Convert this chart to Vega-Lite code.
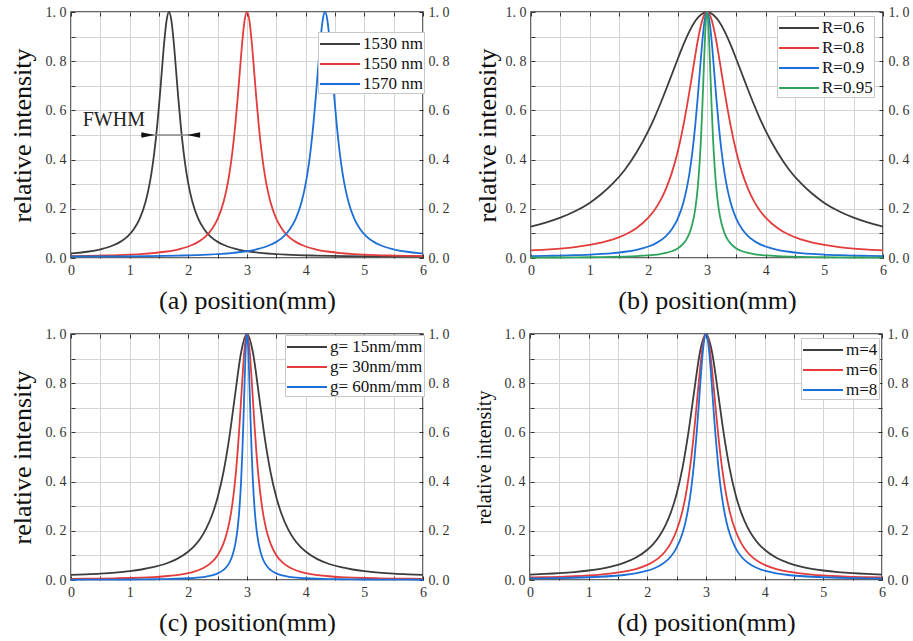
{
"$schema":"https://vega.github.io/schema/vega-lite/v6.json",
"background":"white",
"padding":{"left":8,"top":4,"right":0,"bottom":0},
"config":{
 "view":{"stroke":"#333","strokeWidth":1.5},
 "font":"Liberation Serif",
 "axis":{"domain":false,"grid":true,"gridColor":"#d4d4d4","gridWidth":1,"tickColor":"#333","tickSize":-4,"tickWidth":1,"labelPadding":9,"labelFont":"Liberation Serif","labelFontSize":14,"labelColor":"#333","labelFlush":false,"labelOverlap":false,"titleFont":"Liberation Serif","titleFontWeight":"normal","titleColor":"#111","titleFontSize":26},
 "axisX":{"titlePadding":10},
 "axisY":{"titlePadding":5},
 "legend":{"symbolType":"M-1,0L3,0","symbolSize":400,"symbolStrokeWidth":2,"labelFont":"Liberation Serif","labelFontSize":17,"labelOffset":22,"padding":1,"rowPadding":1,"fillColor":"white","strokeColor":"#c8c8c8","labelColor":"#111","labelLimit":250},
 "line":{"strokeWidth":1.8,"interpolate":"monotone"}
},
"datasets":{
"a":[
{"c":"1530 nm","x":1.67,"y":1},
{"c":"1530 nm","x":1.63,"y":0.967},{"c":"1530 nm","x":1.71,"y":0.967},
{"c":"1530 nm","x":1.59,"y":0.88},{"c":"1530 nm","x":1.75,"y":0.88},
{"c":"1530 nm","x":1.54,"y":0.735},{"c":"1530 nm","x":1.8,"y":0.735},
{"c":"1530 nm","x":1.51,"y":0.647},{"c":"1530 nm","x":1.83,"y":0.647},
{"c":"1530 nm","x":1.47,"y":0.54},{"c":"1530 nm","x":1.87,"y":0.54},
{"c":"1530 nm","x":1.42,"y":0.429},{"c":"1530 nm","x":1.92,"y":0.429},
{"c":"1530 nm","x":1.37,"y":0.343},{"c":"1530 nm","x":1.97,"y":0.343},
{"c":"1530 nm","x":1.32,"y":0.278},{"c":"1530 nm","x":2.02,"y":0.278},
{"c":"1530 nm","x":1.27,"y":0.228},{"c":"1530 nm","x":2.07,"y":0.228},
{"c":"1530 nm","x":1.17,"y":0.159},{"c":"1530 nm","x":2.17,"y":0.159},
{"c":"1530 nm","x":1.07,"y":0.117},{"c":"1530 nm","x":2.27,"y":0.117},
{"c":"1530 nm","x":0.97,"y":0.089},{"c":"1530 nm","x":2.37,"y":0.089},
{"c":"1530 nm","x":0.87,"y":0.07},{"c":"1530 nm","x":2.47,"y":0.07},
{"c":"1530 nm","x":0.67,"y":0.0467},{"c":"1530 nm","x":2.67,"y":0.0467},
{"c":"1530 nm","x":0.47,"y":0.0335},{"c":"1530 nm","x":2.87,"y":0.0335},
{"c":"1530 nm","x":0.27,"y":0.0254},{"c":"1530 nm","x":3.07,"y":0.0254},
{"c":"1530 nm","x":0.07,"y":0.0201},{"c":"1530 nm","x":3.27,"y":0.0201},
{"c":"1530 nm","x":0,"y":0.0187},{"c":"1530 nm","x":3.67,"y":0.0138},
{"c":"1530 nm","x":4.17,"y":0.0099},{"c":"1530 nm","x":4.67,"y":0.0078},
{"c":"1530 nm","x":5.17,"y":0.0068},{"c":"1530 nm","x":5.67,"y":0.0063},{"c":"1530 nm","x":6,"y":0.0062},
{"c":"1550 nm","x":3,"y":1},
{"c":"1550 nm","x":2.96,"y":0.967},{"c":"1550 nm","x":3.04,"y":0.967},
{"c":"1550 nm","x":2.92,"y":0.88},{"c":"1550 nm","x":3.08,"y":0.88},
{"c":"1550 nm","x":2.87,"y":0.735},{"c":"1550 nm","x":3.13,"y":0.735},
{"c":"1550 nm","x":2.84,"y":0.647},{"c":"1550 nm","x":3.16,"y":0.647},
{"c":"1550 nm","x":2.8,"y":0.54},{"c":"1550 nm","x":3.2,"y":0.54},
{"c":"1550 nm","x":2.75,"y":0.429},{"c":"1550 nm","x":3.25,"y":0.429},
{"c":"1550 nm","x":2.7,"y":0.343},{"c":"1550 nm","x":3.3,"y":0.343},
{"c":"1550 nm","x":2.65,"y":0.278},{"c":"1550 nm","x":3.35,"y":0.278},
{"c":"1550 nm","x":2.6,"y":0.228},{"c":"1550 nm","x":3.4,"y":0.228},
{"c":"1550 nm","x":2.5,"y":0.159},{"c":"1550 nm","x":3.5,"y":0.159},
{"c":"1550 nm","x":2.4,"y":0.117},{"c":"1550 nm","x":3.6,"y":0.117},
{"c":"1550 nm","x":2.3,"y":0.089},{"c":"1550 nm","x":3.7,"y":0.089},
{"c":"1550 nm","x":2.2,"y":0.07},{"c":"1550 nm","x":3.8,"y":0.07},
{"c":"1550 nm","x":2,"y":0.0467},{"c":"1550 nm","x":4,"y":0.0467},
{"c":"1550 nm","x":1.8,"y":0.0335},{"c":"1550 nm","x":4.2,"y":0.0335},
{"c":"1550 nm","x":1.6,"y":0.0254},{"c":"1550 nm","x":4.4,"y":0.0254},
{"c":"1550 nm","x":1.4,"y":0.0201},{"c":"1550 nm","x":4.6,"y":0.0201},
{"c":"1550 nm","x":1,"y":0.0138},{"c":"1550 nm","x":5,"y":0.0138},
{"c":"1550 nm","x":0.5,"y":0.0099},{"c":"1550 nm","x":5.5,"y":0.0099},
{"c":"1550 nm","x":0,"y":0.0078},{"c":"1550 nm","x":6,"y":0.0078},
{"c":"1570 nm","x":4.33,"y":1},
{"c":"1570 nm","x":4.29,"y":0.967},{"c":"1570 nm","x":4.37,"y":0.967},
{"c":"1570 nm","x":4.25,"y":0.88},{"c":"1570 nm","x":4.41,"y":0.88},
{"c":"1570 nm","x":4.2,"y":0.735},{"c":"1570 nm","x":4.46,"y":0.735},
{"c":"1570 nm","x":4.17,"y":0.647},{"c":"1570 nm","x":4.49,"y":0.647},
{"c":"1570 nm","x":4.13,"y":0.54},{"c":"1570 nm","x":4.53,"y":0.54},
{"c":"1570 nm","x":4.08,"y":0.429},{"c":"1570 nm","x":4.58,"y":0.429},
{"c":"1570 nm","x":4.03,"y":0.343},{"c":"1570 nm","x":4.63,"y":0.343},
{"c":"1570 nm","x":3.98,"y":0.278},{"c":"1570 nm","x":4.68,"y":0.278},
{"c":"1570 nm","x":3.93,"y":0.228},{"c":"1570 nm","x":4.73,"y":0.228},
{"c":"1570 nm","x":3.83,"y":0.159},{"c":"1570 nm","x":4.83,"y":0.159},
{"c":"1570 nm","x":3.73,"y":0.117},{"c":"1570 nm","x":4.93,"y":0.117},
{"c":"1570 nm","x":3.63,"y":0.089},{"c":"1570 nm","x":5.03,"y":0.089},
{"c":"1570 nm","x":3.53,"y":0.07},{"c":"1570 nm","x":5.13,"y":0.07},
{"c":"1570 nm","x":3.33,"y":0.0467},{"c":"1570 nm","x":5.33,"y":0.0467},
{"c":"1570 nm","x":3.13,"y":0.0335},{"c":"1570 nm","x":5.53,"y":0.0335},
{"c":"1570 nm","x":2.93,"y":0.0254},{"c":"1570 nm","x":5.73,"y":0.0254},
{"c":"1570 nm","x":2.73,"y":0.0201},{"c":"1570 nm","x":5.93,"y":0.0201},
{"c":"1570 nm","x":2.33,"y":0.0138},{"c":"1570 nm","x":6,"y":0.0187},
{"c":"1570 nm","x":1.83,"y":0.0099},{"c":"1570 nm","x":1.33,"y":0.0078},
{"c":"1570 nm","x":0.83,"y":0.0068},{"c":"1570 nm","x":0.33,"y":0.0063},{"c":"1570 nm","x":0,"y":0.0062}
],
"b":[
{"c":"R=0.6","x":3,"y":1},
{"c":"R=0.6","x":2.9,"y":0.99},{"c":"R=0.6","x":3.1,"y":0.99},
{"c":"R=0.6","x":2.8,"y":0.963},{"c":"R=0.6","x":3.2,"y":0.963},
{"c":"R=0.6","x":2.7,"y":0.921},{"c":"R=0.6","x":3.3,"y":0.921},
{"c":"R=0.6","x":2.6,"y":0.868},{"c":"R=0.6","x":3.4,"y":0.868},
{"c":"R=0.6","x":2.5,"y":0.808},{"c":"R=0.6","x":3.5,"y":0.808},
{"c":"R=0.6","x":2.4,"y":0.746},{"c":"R=0.6","x":3.6,"y":0.746},
{"c":"R=0.6","x":2.3,"y":0.684},{"c":"R=0.6","x":3.7,"y":0.684},
{"c":"R=0.6","x":2.2,"y":0.624},{"c":"R=0.6","x":3.8,"y":0.624},
{"c":"R=0.6","x":2.1,"y":0.568},{"c":"R=0.6","x":3.9,"y":0.568},
{"c":"R=0.6","x":2,"y":0.517},{"c":"R=0.6","x":4,"y":0.517},
{"c":"R=0.6","x":1.8,"y":0.43},{"c":"R=0.6","x":4.2,"y":0.43},
{"c":"R=0.6","x":1.6,"y":0.359},{"c":"R=0.6","x":4.4,"y":0.359},
{"c":"R=0.6","x":1.4,"y":0.304},{"c":"R=0.6","x":4.6,"y":0.304},
{"c":"R=0.6","x":1.2,"y":0.26},{"c":"R=0.6","x":4.8,"y":0.26},
{"c":"R=0.6","x":1,"y":0.224},{"c":"R=0.6","x":5,"y":0.224},
{"c":"R=0.6","x":0.75,"y":0.19},{"c":"R=0.6","x":5.25,"y":0.19},
{"c":"R=0.6","x":0.5,"y":0.164},{"c":"R=0.6","x":5.5,"y":0.164},
{"c":"R=0.6","x":0.25,"y":0.144},{"c":"R=0.6","x":5.75,"y":0.144},
{"c":"R=0.6","x":0,"y":0.128},{"c":"R=0.6","x":6,"y":0.128},
{"c":"R=0.8","x":3,"y":1},
{"c":"R=0.8","x":2.96,"y":0.992},{"c":"R=0.8","x":3.04,"y":0.992},
{"c":"R=0.8","x":2.92,"y":0.967},{"c":"R=0.8","x":3.08,"y":0.967},
{"c":"R=0.8","x":2.9,"y":0.949},{"c":"R=0.8","x":3.1,"y":0.949},
{"c":"R=0.8","x":2.87,"y":0.917},{"c":"R=0.8","x":3.13,"y":0.917},
{"c":"R=0.8","x":2.84,"y":0.88},{"c":"R=0.8","x":3.16,"y":0.88},
{"c":"R=0.8","x":2.8,"y":0.824},{"c":"R=0.8","x":3.2,"y":0.824},
{"c":"R=0.8","x":2.75,"y":0.75},{"c":"R=0.8","x":3.25,"y":0.75},
{"c":"R=0.8","x":2.7,"y":0.676},{"c":"R=0.8","x":3.3,"y":0.676},
{"c":"R=0.8","x":2.65,"y":0.606},{"c":"R=0.8","x":3.35,"y":0.606},
{"c":"R=0.8","x":2.6,"y":0.541},{"c":"R=0.8","x":3.4,"y":0.541},
{"c":"R=0.8","x":2.5,"y":0.431},{"c":"R=0.8","x":3.5,"y":0.431},
{"c":"R=0.8","x":2.4,"y":0.346},{"c":"R=0.8","x":3.6,"y":0.346},
{"c":"R=0.8","x":2.3,"y":0.281},{"c":"R=0.8","x":3.7,"y":0.281},
{"c":"R=0.8","x":2.2,"y":0.231},{"c":"R=0.8","x":3.8,"y":0.231},
{"c":"R=0.8","x":2.1,"y":0.193},{"c":"R=0.8","x":3.9,"y":0.193},
{"c":"R=0.8","x":2,"y":0.164},{"c":"R=0.8","x":4,"y":0.164},
{"c":"R=0.8","x":1.8,"y":0.122},{"c":"R=0.8","x":4.2,"y":0.122},
{"c":"R=0.8","x":1.6,"y":0.0945},{"c":"R=0.8","x":4.4,"y":0.0945},
{"c":"R=0.8","x":1.4,"y":0.0759},{"c":"R=0.8","x":4.6,"y":0.0759},
{"c":"R=0.8","x":1.2,"y":0.0627},{"c":"R=0.8","x":4.8,"y":0.0627},
{"c":"R=0.8","x":1,"y":0.0532},{"c":"R=0.8","x":5,"y":0.0532},
{"c":"R=0.8","x":0.75,"y":0.0445},{"c":"R=0.8","x":5.25,"y":0.0445},
{"c":"R=0.8","x":0.5,"y":0.0384},{"c":"R=0.8","x":5.5,"y":0.0384},
{"c":"R=0.8","x":0.25,"y":0.0339},{"c":"R=0.8","x":5.75,"y":0.0339},
{"c":"R=0.8","x":0,"y":0.0306},{"c":"R=0.8","x":6,"y":0.0306},
{"c":"R=0.9","x":3,"y":1},
{"c":"R=0.9","x":2.96,"y":0.967},{"c":"R=0.9","x":3.04,"y":0.967},
{"c":"R=0.9","x":2.92,"y":0.88},{"c":"R=0.9","x":3.08,"y":0.88},
{"c":"R=0.9","x":2.9,"y":0.824},{"c":"R=0.9","x":3.1,"y":0.824},
{"c":"R=0.9","x":2.87,"y":0.735},{"c":"R=0.9","x":3.13,"y":0.735},
{"c":"R=0.9","x":2.84,"y":0.647},{"c":"R=0.9","x":3.16,"y":0.647},
{"c":"R=0.9","x":2.8,"y":0.54},{"c":"R=0.9","x":3.2,"y":0.54},
{"c":"R=0.9","x":2.75,"y":0.429},{"c":"R=0.9","x":3.25,"y":0.429},
{"c":"R=0.9","x":2.7,"y":0.343},{"c":"R=0.9","x":3.3,"y":0.343},
{"c":"R=0.9","x":2.65,"y":0.278},{"c":"R=0.9","x":3.35,"y":0.278},
{"c":"R=0.9","x":2.6,"y":0.228},{"c":"R=0.9","x":3.4,"y":0.228},
{"c":"R=0.9","x":2.5,"y":0.159},{"c":"R=0.9","x":3.5,"y":0.159},
{"c":"R=0.9","x":2.4,"y":0.117},{"c":"R=0.9","x":3.6,"y":0.117},
{"c":"R=0.9","x":2.3,"y":0.089},{"c":"R=0.9","x":3.7,"y":0.089},
{"c":"R=0.9","x":2.2,"y":0.07},{"c":"R=0.9","x":3.8,"y":0.07},
{"c":"R=0.9","x":2.1,"y":0.0566},{"c":"R=0.9","x":3.9,"y":0.0566},
{"c":"R=0.9","x":2,"y":0.0467},{"c":"R=0.9","x":4,"y":0.0467},
{"c":"R=0.9","x":1.8,"y":0.0335},{"c":"R=0.9","x":4.2,"y":0.0335},
{"c":"R=0.9","x":1.6,"y":0.0254},{"c":"R=0.9","x":4.4,"y":0.0254},
{"c":"R=0.9","x":1.4,"y":0.0201},{"c":"R=0.9","x":4.6,"y":0.0201},
{"c":"R=0.9","x":1.2,"y":0.0165},{"c":"R=0.9","x":4.8,"y":0.0165},
{"c":"R=0.9","x":1,"y":0.0138},{"c":"R=0.9","x":5,"y":0.0138},
{"c":"R=0.9","x":0.75,"y":0.0115},{"c":"R=0.9","x":5.25,"y":0.0115},
{"c":"R=0.9","x":0.5,"y":0.0099},{"c":"R=0.9","x":5.5,"y":0.0099},
{"c":"R=0.9","x":0.25,"y":0.0087},{"c":"R=0.9","x":5.75,"y":0.0087},
{"c":"R=0.9","x":0,"y":0.0078},{"c":"R=0.9","x":6,"y":0.0078},
{"c":"R=0.95","x":3,"y":1},
{"c":"R=0.95","x":2.98,"y":0.961},{"c":"R=0.95","x":3.02,"y":0.961},
{"c":"R=0.95","x":2.96,"y":0.862},{"c":"R=0.95","x":3.04,"y":0.862},
{"c":"R=0.95","x":2.94,"y":0.735},{"c":"R=0.95","x":3.06,"y":0.735},
{"c":"R=0.95","x":2.92,"y":0.61},{"c":"R=0.95","x":3.08,"y":0.61},
{"c":"R=0.95","x":2.9,"y":0.5},{"c":"R=0.95","x":3.1,"y":0.5},
{"c":"R=0.95","x":2.87,"y":0.372},{"c":"R=0.95","x":3.13,"y":0.372},
{"c":"R=0.95","x":2.84,"y":0.281},{"c":"R=0.95","x":3.16,"y":0.281},
{"c":"R=0.95","x":2.8,"y":0.2},{"c":"R=0.95","x":3.2,"y":0.2},
{"c":"R=0.95","x":2.75,"y":0.138},{"c":"R=0.95","x":3.25,"y":0.138},
{"c":"R=0.95","x":2.7,"y":0.1},{"c":"R=0.95","x":3.3,"y":0.1},
{"c":"R=0.95","x":2.65,"y":0.0758},{"c":"R=0.95","x":3.35,"y":0.0758},
{"c":"R=0.95","x":2.6,"y":0.0592},{"c":"R=0.95","x":3.4,"y":0.0592},
{"c":"R=0.95","x":2.5,"y":0.0388},{"c":"R=0.95","x":3.5,"y":0.0388},
{"c":"R=0.95","x":2.4,"y":0.0274},{"c":"R=0.95","x":3.6,"y":0.0274},
{"c":"R=0.95","x":2.3,"y":0.0204},{"c":"R=0.95","x":3.7,"y":0.0204},
{"c":"R=0.95","x":2.2,"y":0.0158},{"c":"R=0.95","x":3.8,"y":0.0158},
{"c":"R=0.95","x":2.1,"y":0.0126},{"c":"R=0.95","x":3.9,"y":0.0126},
{"c":"R=0.95","x":2,"y":0.0103},{"c":"R=0.95","x":4,"y":0.0103},
{"c":"R=0.95","x":1.8,"y":0.0073},{"c":"R=0.95","x":4.2,"y":0.0073},
{"c":"R=0.95","x":1.6,"y":0.0055},{"c":"R=0.95","x":4.4,"y":0.0055},
{"c":"R=0.95","x":1.4,"y":0.0044},{"c":"R=0.95","x":4.6,"y":0.0044},
{"c":"R=0.95","x":1.2,"y":0.0036},{"c":"R=0.95","x":4.8,"y":0.0036},
{"c":"R=0.95","x":1,"y":0.003},{"c":"R=0.95","x":5,"y":0.003},
{"c":"R=0.95","x":0.75,"y":0.0025},{"c":"R=0.95","x":5.25,"y":0.0025},
{"c":"R=0.95","x":0.5,"y":0.0021},{"c":"R=0.95","x":5.5,"y":0.0021},
{"c":"R=0.95","x":0.25,"y":0.0019},{"c":"R=0.95","x":5.75,"y":0.0019},
{"c":"R=0.95","x":0,"y":0.0017},{"c":"R=0.95","x":6,"y":0.0017}
],
"c":[
{"c":"g= 15nm/mm","x":3,"y":1},
{"c":"g= 15nm/mm","x":2.9,"y":0.926},{"c":"g= 15nm/mm","x":3.1,"y":0.926},
{"c":"g= 15nm/mm","x":2.8,"y":0.758},{"c":"g= 15nm/mm","x":3.2,"y":0.758},
{"c":"g= 15nm/mm","x":2.7,"y":0.582},{"c":"g= 15nm/mm","x":3.3,"y":0.582},
{"c":"g= 15nm/mm","x":2.6,"y":0.44},{"c":"g= 15nm/mm","x":3.4,"y":0.44},
{"c":"g= 15nm/mm","x":2.5,"y":0.336},{"c":"g= 15nm/mm","x":3.5,"y":0.336},
{"c":"g= 15nm/mm","x":2.4,"y":0.261},{"c":"g= 15nm/mm","x":3.6,"y":0.261},
{"c":"g= 15nm/mm","x":2.3,"y":0.207},{"c":"g= 15nm/mm","x":3.7,"y":0.207},
{"c":"g= 15nm/mm","x":2.2,"y":0.167},{"c":"g= 15nm/mm","x":3.8,"y":0.167},
{"c":"g= 15nm/mm","x":2.1,"y":0.138},{"c":"g= 15nm/mm","x":3.9,"y":0.138},
{"c":"g= 15nm/mm","x":2,"y":0.116},{"c":"g= 15nm/mm","x":4,"y":0.116},
{"c":"g= 15nm/mm","x":1.8,"y":0.0847},{"c":"g= 15nm/mm","x":4.2,"y":0.0847},
{"c":"g= 15nm/mm","x":1.6,"y":0.0651},{"c":"g= 15nm/mm","x":4.4,"y":0.0651},
{"c":"g= 15nm/mm","x":1.4,"y":0.0519},{"c":"g= 15nm/mm","x":4.6,"y":0.0519},
{"c":"g= 15nm/mm","x":1.2,"y":0.0427},{"c":"g= 15nm/mm","x":4.8,"y":0.0427},
{"c":"g= 15nm/mm","x":1,"y":0.0361},{"c":"g= 15nm/mm","x":5,"y":0.0361},
{"c":"g= 15nm/mm","x":0.75,"y":0.0301},{"c":"g= 15nm/mm","x":5.25,"y":0.0301},
{"c":"g= 15nm/mm","x":0.5,"y":0.0259},{"c":"g= 15nm/mm","x":5.5,"y":0.0259},
{"c":"g= 15nm/mm","x":0.25,"y":0.0229},{"c":"g= 15nm/mm","x":5.75,"y":0.0229},
{"c":"g= 15nm/mm","x":0,"y":0.0206},{"c":"g= 15nm/mm","x":6,"y":0.0206},
{"c":"g= 30nm/mm","x":3,"y":1},
{"c":"g= 30nm/mm","x":2.96,"y":0.945},{"c":"g= 30nm/mm","x":3.04,"y":0.945},
{"c":"g= 30nm/mm","x":2.92,"y":0.813},{"c":"g= 30nm/mm","x":3.08,"y":0.813},
{"c":"g= 30nm/mm","x":2.9,"y":0.735},{"c":"g= 30nm/mm","x":3.1,"y":0.735},
{"c":"g= 30nm/mm","x":2.87,"y":0.622},{"c":"g= 30nm/mm","x":3.13,"y":0.622},
{"c":"g= 30nm/mm","x":2.84,"y":0.52},{"c":"g= 30nm/mm","x":3.16,"y":0.52},
{"c":"g= 30nm/mm","x":2.8,"y":0.41},{"c":"g= 30nm/mm","x":3.2,"y":0.41},
{"c":"g= 30nm/mm","x":2.75,"y":0.308},{"c":"g= 30nm/mm","x":3.25,"y":0.308},
{"c":"g= 30nm/mm","x":2.7,"y":0.236},{"c":"g= 30nm/mm","x":3.3,"y":0.236},
{"c":"g= 30nm/mm","x":2.65,"y":0.186},{"c":"g= 30nm/mm","x":3.35,"y":0.186},
{"c":"g= 30nm/mm","x":2.6,"y":0.149},{"c":"g= 30nm/mm","x":3.4,"y":0.149},
{"c":"g= 30nm/mm","x":2.5,"y":0.101},{"c":"g= 30nm/mm","x":3.5,"y":0.101},
{"c":"g= 30nm/mm","x":2.4,"y":0.0727},{"c":"g= 30nm/mm","x":3.6,"y":0.0727},
{"c":"g= 30nm/mm","x":2.3,"y":0.0547},{"c":"g= 30nm/mm","x":3.7,"y":0.0547},
{"c":"g= 30nm/mm","x":2.2,"y":0.0427},{"c":"g= 30nm/mm","x":3.8,"y":0.0427},
{"c":"g= 30nm/mm","x":2.1,"y":0.0343},{"c":"g= 30nm/mm","x":3.9,"y":0.0343},
{"c":"g= 30nm/mm","x":2,"y":0.0282},{"c":"g= 30nm/mm","x":4,"y":0.0282},
{"c":"g= 30nm/mm","x":1.8,"y":0.0201},{"c":"g= 30nm/mm","x":4.2,"y":0.0201},
{"c":"g= 30nm/mm","x":1.6,"y":0.0152},{"c":"g= 30nm/mm","x":4.4,"y":0.0152},
{"c":"g= 30nm/mm","x":1.4,"y":0.012},{"c":"g= 30nm/mm","x":4.6,"y":0.012},
{"c":"g= 30nm/mm","x":1.2,"y":0.0098},{"c":"g= 30nm/mm","x":4.8,"y":0.0098},
{"c":"g= 30nm/mm","x":1,"y":0.0082},{"c":"g= 30nm/mm","x":5,"y":0.0082},
{"c":"g= 30nm/mm","x":0.75,"y":0.0069},{"c":"g= 30nm/mm","x":5.25,"y":0.0069},
{"c":"g= 30nm/mm","x":0.5,"y":0.0059},{"c":"g= 30nm/mm","x":5.5,"y":0.0059},
{"c":"g= 30nm/mm","x":0.25,"y":0.0052},{"c":"g= 30nm/mm","x":5.75,"y":0.0052},
{"c":"g= 30nm/mm","x":0,"y":0.0047},{"c":"g= 30nm/mm","x":6,"y":0.0047},
{"c":"g= 60nm/mm","x":3,"y":1},
{"c":"g= 60nm/mm","x":2.98,"y":0.945},{"c":"g= 60nm/mm","x":3.02,"y":0.945},
{"c":"g= 60nm/mm","x":2.96,"y":0.81},{"c":"g= 60nm/mm","x":3.04,"y":0.81},
{"c":"g= 60nm/mm","x":2.94,"y":0.654},{"c":"g= 60nm/mm","x":3.06,"y":0.654},
{"c":"g= 60nm/mm","x":2.92,"y":0.516},{"c":"g= 60nm/mm","x":3.08,"y":0.516},
{"c":"g= 60nm/mm","x":2.9,"y":0.405},{"c":"g= 60nm/mm","x":3.1,"y":0.405},
{"c":"g= 60nm/mm","x":2.87,"y":0.287},{"c":"g= 60nm/mm","x":3.13,"y":0.287},
{"c":"g= 60nm/mm","x":2.84,"y":0.21},{"c":"g= 60nm/mm","x":3.16,"y":0.21},
{"c":"g= 60nm/mm","x":2.8,"y":0.146},{"c":"g= 60nm/mm","x":3.2,"y":0.146},
{"c":"g= 60nm/mm","x":2.75,"y":0.0985},{"c":"g= 60nm/mm","x":3.25,"y":0.0985},
{"c":"g= 60nm/mm","x":2.7,"y":0.0706},{"c":"g= 60nm/mm","x":3.3,"y":0.0706},
{"c":"g= 60nm/mm","x":2.65,"y":0.053},{"c":"g= 60nm/mm","x":3.35,"y":0.053},
{"c":"g= 60nm/mm","x":2.6,"y":0.0411},{"c":"g= 60nm/mm","x":3.4,"y":0.0411},
{"c":"g= 60nm/mm","x":2.5,"y":0.0268},{"c":"g= 60nm/mm","x":3.5,"y":0.0268},
{"c":"g= 60nm/mm","x":2.4,"y":0.0189},{"c":"g= 60nm/mm","x":3.6,"y":0.0189},
{"c":"g= 60nm/mm","x":2.3,"y":0.014},{"c":"g= 60nm/mm","x":3.7,"y":0.014},
{"c":"g= 60nm/mm","x":2.2,"y":0.0108},{"c":"g= 60nm/mm","x":3.8,"y":0.0108},
{"c":"g= 60nm/mm","x":2.1,"y":0.0086},{"c":"g= 60nm/mm","x":3.9,"y":0.0086},
{"c":"g= 60nm/mm","x":2,"y":0.0071},{"c":"g= 60nm/mm","x":4,"y":0.0071},
{"c":"g= 60nm/mm","x":1.8,"y":0.005},{"c":"g= 60nm/mm","x":4.2,"y":0.005},
{"c":"g= 60nm/mm","x":1.6,"y":0.0038},{"c":"g= 60nm/mm","x":4.4,"y":0.0038},
{"c":"g= 60nm/mm","x":1.4,"y":0.003},{"c":"g= 60nm/mm","x":4.6,"y":0.003},
{"c":"g= 60nm/mm","x":1.2,"y":0.0024},{"c":"g= 60nm/mm","x":4.8,"y":0.0024},
{"c":"g= 60nm/mm","x":1,"y":0.002},{"c":"g= 60nm/mm","x":5,"y":0.002},
{"c":"g= 60nm/mm","x":0.75,"y":0.0017},{"c":"g= 60nm/mm","x":5.25,"y":0.0017},
{"c":"g= 60nm/mm","x":0.5,"y":0.0015},{"c":"g= 60nm/mm","x":5.5,"y":0.0015},
{"c":"g= 60nm/mm","x":0.25,"y":0.0013},{"c":"g= 60nm/mm","x":5.75,"y":0.0013},
{"c":"g= 60nm/mm","x":0,"y":0.0011},{"c":"g= 60nm/mm","x":6,"y":0.0011}
],
"d":[
{"c":"m=4","x":3,"y":1},
{"c":"m=4","x":2.9,"y":0.93},{"c":"m=4","x":3.1,"y":0.93},
{"c":"m=4","x":2.8,"y":0.77},{"c":"m=4","x":3.2,"y":0.77},
{"c":"m=4","x":2.7,"y":0.599},{"c":"m=4","x":3.3,"y":0.599},
{"c":"m=4","x":2.6,"y":0.457},{"c":"m=4","x":3.4,"y":0.457},
{"c":"m=4","x":2.5,"y":0.351},{"c":"m=4","x":3.5,"y":0.351},
{"c":"m=4","x":2.4,"y":0.274},{"c":"m=4","x":3.6,"y":0.274},
{"c":"m=4","x":2.3,"y":0.218},{"c":"m=4","x":3.7,"y":0.218},
{"c":"m=4","x":2.2,"y":0.177},{"c":"m=4","x":3.8,"y":0.177},
{"c":"m=4","x":2.1,"y":0.146},{"c":"m=4","x":3.9,"y":0.146},
{"c":"m=4","x":2,"y":0.123},{"c":"m=4","x":4,"y":0.123},
{"c":"m=4","x":1.8,"y":0.0902},{"c":"m=4","x":4.2,"y":0.0902},
{"c":"m=4","x":1.6,"y":0.0694},{"c":"m=4","x":4.4,"y":0.0694},
{"c":"m=4","x":1.4,"y":0.0554},{"c":"m=4","x":4.6,"y":0.0554},
{"c":"m=4","x":1.2,"y":0.0456},{"c":"m=4","x":4.8,"y":0.0456},
{"c":"m=4","x":1,"y":0.0386},{"c":"m=4","x":5,"y":0.0386},
{"c":"m=4","x":0.75,"y":0.0322},{"c":"m=4","x":5.25,"y":0.0322},
{"c":"m=4","x":0.5,"y":0.0277},{"c":"m=4","x":5.5,"y":0.0277},
{"c":"m=4","x":0.25,"y":0.0245},{"c":"m=4","x":5.75,"y":0.0245},
{"c":"m=4","x":0,"y":0.0221},{"c":"m=4","x":6,"y":0.0221},
{"c":"m=6","x":3,"y":1},
{"c":"m=6","x":2.96,"y":0.975},{"c":"m=6","x":3.04,"y":0.975},
{"c":"m=6","x":2.92,"y":0.907},{"c":"m=6","x":3.08,"y":0.907},
{"c":"m=6","x":2.9,"y":0.862},{"c":"m=6","x":3.1,"y":0.862},
{"c":"m=6","x":2.87,"y":0.787},{"c":"m=6","x":3.13,"y":0.787},
{"c":"m=6","x":2.84,"y":0.71},{"c":"m=6","x":3.16,"y":0.71},
{"c":"m=6","x":2.8,"y":0.61},{"c":"m=6","x":3.2,"y":0.61},
{"c":"m=6","x":2.75,"y":0.5},{"c":"m=6","x":3.25,"y":0.5},
{"c":"m=6","x":2.7,"y":0.411},{"c":"m=6","x":3.3,"y":0.411},
{"c":"m=6","x":2.65,"y":0.339},{"c":"m=6","x":3.35,"y":0.339},
{"c":"m=6","x":2.6,"y":0.282},{"c":"m=6","x":3.4,"y":0.282},
{"c":"m=6","x":2.5,"y":0.202},{"c":"m=6","x":3.5,"y":0.202},
{"c":"m=6","x":2.4,"y":0.15},{"c":"m=6","x":3.6,"y":0.15},
{"c":"m=6","x":2.3,"y":0.115},{"c":"m=6","x":3.7,"y":0.115},
{"c":"m=6","x":2.2,"y":0.0912},{"c":"m=6","x":3.8,"y":0.0912},
{"c":"m=6","x":2.1,"y":0.074},{"c":"m=6","x":3.9,"y":0.074},
{"c":"m=6","x":2,"y":0.0613},{"c":"m=6","x":4,"y":0.0613},
{"c":"m=6","x":1.8,"y":0.0442},{"c":"m=6","x":4.2,"y":0.0442},
{"c":"m=6","x":1.6,"y":0.0336},{"c":"m=6","x":4.4,"y":0.0336},
{"c":"m=6","x":1.4,"y":0.0266},{"c":"m=6","x":4.6,"y":0.0266},
{"c":"m=6","x":1.2,"y":0.0218},{"c":"m=6","x":4.8,"y":0.0218},
{"c":"m=6","x":1,"y":0.0184},{"c":"m=6","x":5,"y":0.0184},
{"c":"m=6","x":0.75,"y":0.0153},{"c":"m=6","x":5.25,"y":0.0153},
{"c":"m=6","x":0.5,"y":0.0131},{"c":"m=6","x":5.5,"y":0.0131},
{"c":"m=6","x":0.25,"y":0.0116},{"c":"m=6","x":5.75,"y":0.0116},
{"c":"m=6","x":0,"y":0.0104},{"c":"m=6","x":6,"y":0.0104},
{"c":"m=8","x":3,"y":1},
{"c":"m=8","x":2.96,"y":0.959},{"c":"m=8","x":3.04,"y":0.959},
{"c":"m=8","x":2.92,"y":0.854},{"c":"m=8","x":3.08,"y":0.854},
{"c":"m=8","x":2.9,"y":0.789},{"c":"m=8","x":3.1,"y":0.789},
{"c":"m=8","x":2.87,"y":0.689},{"c":"m=8","x":3.13,"y":0.689},
{"c":"m=8","x":2.84,"y":0.594},{"c":"m=8","x":3.16,"y":0.594},
{"c":"m=8","x":2.8,"y":0.484},{"c":"m=8","x":3.2,"y":0.484},
{"c":"m=8","x":2.75,"y":0.375},{"c":"m=8","x":3.25,"y":0.375},
{"c":"m=8","x":2.7,"y":0.295},{"c":"m=8","x":3.3,"y":0.295},
{"c":"m=8","x":2.65,"y":0.235},{"c":"m=8","x":3.35,"y":0.235},
{"c":"m=8","x":2.6,"y":0.191},{"c":"m=8","x":3.4,"y":0.191},
{"c":"m=8","x":2.5,"y":0.132},{"c":"m=8","x":3.5,"y":0.132},
{"c":"m=8","x":2.4,"y":0.0956},{"c":"m=8","x":3.6,"y":0.0956},
{"c":"m=8","x":2.3,"y":0.0725},{"c":"m=8","x":3.7,"y":0.0725},
{"c":"m=8","x":2.2,"y":0.0568},{"c":"m=8","x":3.8,"y":0.0568},
{"c":"m=8","x":2.1,"y":0.0458},{"c":"m=8","x":3.9,"y":0.0458},
{"c":"m=8","x":2,"y":0.0377},{"c":"m=8","x":4,"y":0.0377},
{"c":"m=8","x":1.8,"y":0.027},{"c":"m=8","x":4.2,"y":0.027},
{"c":"m=8","x":1.6,"y":0.0204},{"c":"m=8","x":4.4,"y":0.0204},
{"c":"m=8","x":1.4,"y":0.0162},{"c":"m=8","x":4.6,"y":0.0162},
{"c":"m=8","x":1.2,"y":0.0132},{"c":"m=8","x":4.8,"y":0.0132},
{"c":"m=8","x":1,"y":0.0111},{"c":"m=8","x":5,"y":0.0111},
{"c":"m=8","x":0.75,"y":0.0092},{"c":"m=8","x":5.25,"y":0.0092},
{"c":"m=8","x":0.5,"y":0.0079},{"c":"m=8","x":5.5,"y":0.0079},
{"c":"m=8","x":0.25,"y":0.007},{"c":"m=8","x":5.75,"y":0.007},
{"c":"m=8","x":0,"y":0.0063},{"c":"m=8","x":6,"y":0.0063}
],
"frame":[{"x":0,"y":0},{"x":6,"y":1}],
"fwhmArrow":[{"x":1.19,"x2":2.2,"y":0.5}],
"fwhmLeft":[{"x":1.31,"y":0.5}],
"fwhmRight":[{"x":2.09,"y":0.5}],
"fwhmText":[{"x":0.73,"y":0.563,"t":"FWHM"}]
},
"columns":2,
"align":"none",
"spacing":{"row":12,"column":23},
"resolve":{"scale":{"color":"independent"}},
"concat":[
 {"width":352,"height":246,
  "resolve":{"scale":{"x":"independent","y":"independent"}},
  "layer":[
    {"data":{"name":"a"},"mark":{"type":"line"},
     "encoding":{
      "x":{"field":"x","type":"quantitative","scale":{"domain":[0,6],"nice":false,"zero":false},"axis":{"title":"(a) position(mm)","values":[0,0.5,1,1.5,2,2.5,3,3.5,4,4.5,5,5.5,6],"labelExpr":"datum.value % 1 == 0 ? format(datum.value, 'd') : ''"}},
      "y":{"field":"y","type":"quantitative","scale":{"domain":[0,1],"nice":false},"axis":{"title":"relative intensity","titlePadding":10,"values":[0,0.1,0.2,0.3,0.4,0.5,0.6,0.7,0.8,0.9,1],"labelExpr":"round(datum.value*10) % 2 == 0 ? (floor(datum.value + 0.001) + '. ' + (round(datum.value*10) % 10)) : ''"}},
      "color":{"field":"c","type":"nominal","scale":{"domain":["1530 nm","1550 nm","1570 nm"],"range":["#3d3d3d","#e23c3c","#1c6fd6"]},"legend":{"orient":"none","legendX":247,"legendY":20,"title":null}}
     }},
    {"data":{"name":"fwhmArrow"},"mark":{"type":"rule","color":"#8a8a8a","strokeWidth":1.5},
     "encoding":{"x":{"field":"x","type":"quantitative","scale":{"domain":[0,6],"nice":false,"zero":false},"axis":null},"x2":{"field":"x2"},"y":{"field":"y","type":"quantitative","scale":{"domain":[0,1],"nice":false},"axis":null}}},
    {"data":{"name":"fwhmLeft"},"mark":{"type":"point","shape":"M-1,-0.42L1,0L-1,0.42Z","size":169,"filled":true,"color":"#111","opacity":1},
     "encoding":{"x":{"field":"x","type":"quantitative","scale":{"domain":[0,6],"nice":false,"zero":false},"axis":null},"y":{"field":"y","type":"quantitative","scale":{"domain":[0,1],"nice":false},"axis":null}}},
    {"data":{"name":"fwhmRight"},"mark":{"type":"point","shape":"M1,-0.42L-1,0L1,0.42Z","size":169,"filled":true,"color":"#111","opacity":1},
     "encoding":{"x":{"field":"x","type":"quantitative","scale":{"domain":[0,6],"nice":false,"zero":false},"axis":null},"y":{"field":"y","type":"quantitative","scale":{"domain":[0,1],"nice":false},"axis":null}}},
    {"data":{"name":"fwhmText"},"mark":{"type":"text","font":"Liberation Serif","fontSize":20,"color":"#222","align":"center","baseline":"middle"},
     "encoding":{"x":{"field":"x","type":"quantitative","scale":{"domain":[0,6],"nice":false,"zero":false},"axis":null},"y":{"field":"y","type":"quantitative","scale":{"domain":[0,1],"nice":false},"axis":null},"text":{"field":"t"}}},
   {"data":{"name":"frame"},"mark":{"type":"point","opacity":0},
    "encoding":{
     "x":{"field":"x","type":"quantitative","scale":{"domain":[0,6],"nice":false,"zero":false},"axis":{"orient":"top","labels":false,"grid":false,"title":null,"values":[0,0.5,1,1.5,2,2.5,3,3.5,4,4.5,5,5.5,6]}},
     "y":{"field":"y","type":"quantitative","scale":{"domain":[0,1],"nice":false},"axis":{"orient":"right","grid":false,"title":null,"values":[0,0.1,0.2,0.3,0.4,0.5,0.6,0.7,0.8,0.9,1],"labelExpr":"round(datum.value*10) % 2 == 0 ? (floor(datum.value + 0.001) + '. ' + (round(datum.value*10) % 10)) : ''"}}
    }}
  ]},
 {"width":352,"height":246,
  "resolve":{"scale":{"x":"independent","y":"independent"}},
  "layer":[
    {"data":{"name":"b"},"mark":{"type":"line"},
     "encoding":{
      "x":{"field":"x","type":"quantitative","scale":{"domain":[0,6],"nice":false,"zero":false},"axis":{"title":"(b) position(mm)","values":[0,0.5,1,1.5,2,2.5,3,3.5,4,4.5,5,5.5,6],"labelExpr":"datum.value % 1 == 0 ? format(datum.value, 'd') : ''"}},
      "y":{"field":"y","type":"quantitative","scale":{"domain":[0,1],"nice":false},"axis":{"title":"relative intensity","titlePadding":5,"values":[0,0.1,0.2,0.3,0.4,0.5,0.6,0.7,0.8,0.9,1],"labelExpr":"round(datum.value*10) % 2 == 0 ? (floor(datum.value + 0.001) + '. ' + (round(datum.value*10) % 10)) : ''"}},
      "color":{"field":"c","type":"nominal","scale":{"domain":["R=0.6","R=0.8","R=0.9","R=0.95"],"range":["#3d3d3d","#e23c3c","#1c6fd6","#2fa35c"]},"legend":{"orient":"none","legendX":246,"legendY":4,"title":null}}
     }},
   {"data":{"name":"frame"},"mark":{"type":"point","opacity":0},
    "encoding":{
     "x":{"field":"x","type":"quantitative","scale":{"domain":[0,6],"nice":false,"zero":false},"axis":{"orient":"top","labels":false,"grid":false,"title":null,"values":[0,0.5,1,1.5,2,2.5,3,3.5,4,4.5,5,5.5,6]}},
     "y":{"field":"y","type":"quantitative","scale":{"domain":[0,1],"nice":false},"axis":{"orient":"right","grid":false,"title":null,"values":[0,0.1,0.2,0.3,0.4,0.5,0.6,0.7,0.8,0.9,1],"labelExpr":"round(datum.value*10) % 2 == 0 ? (floor(datum.value + 0.001) + '. ' + (round(datum.value*10) % 10)) : ''"}}
    }}
  ]},
 {"width":352,"height":246,
  "resolve":{"scale":{"x":"independent","y":"independent"}},
  "layer":[
    {"data":{"name":"c"},"mark":{"type":"line"},
     "encoding":{
      "x":{"field":"x","type":"quantitative","scale":{"domain":[0,6],"nice":false,"zero":false},"axis":{"title":"(c) position(mm)","values":[0,0.5,1,1.5,2,2.5,3,3.5,4,4.5,5,5.5,6],"labelExpr":"datum.value % 1 == 0 ? format(datum.value, 'd') : ''"}},
      "y":{"field":"y","type":"quantitative","scale":{"domain":[0,1],"nice":false},"axis":{"title":"relative intensity","titlePadding":10,"values":[0,0.1,0.2,0.3,0.4,0.5,0.6,0.7,0.8,0.9,1],"labelExpr":"round(datum.value*10) % 2 == 0 ? (floor(datum.value + 0.001) + '. ' + (round(datum.value*10) % 10)) : ''"}},
      "color":{"field":"c","type":"nominal","scale":{"domain":["g= 15nm/mm","g= 30nm/mm","g= 60nm/mm"],"range":["#3d3d3d","#e23c3c","#1c6fd6"]},"legend":{"orient":"none","legendX":214,"legendY":1,"title":null}}
     }},
   {"data":{"name":"frame"},"mark":{"type":"point","opacity":0},
    "encoding":{
     "x":{"field":"x","type":"quantitative","scale":{"domain":[0,6],"nice":false,"zero":false},"axis":{"orient":"top","labels":false,"grid":false,"title":null,"values":[0,0.5,1,1.5,2,2.5,3,3.5,4,4.5,5,5.5,6]}},
     "y":{"field":"y","type":"quantitative","scale":{"domain":[0,1],"nice":false},"axis":{"orient":"right","grid":false,"title":null,"values":[0,0.1,0.2,0.3,0.4,0.5,0.6,0.7,0.8,0.9,1],"labelExpr":"round(datum.value*10) % 2 == 0 ? (floor(datum.value + 0.001) + '. ' + (round(datum.value*10) % 10)) : ''"}}
    }}
  ]},
 {"width":352,"height":246,
  "resolve":{"scale":{"x":"independent","y":"independent"}},
  "layer":[
    {"data":{"name":"d"},"mark":{"type":"line"},
     "encoding":{
      "x":{"field":"x","type":"quantitative","scale":{"domain":[0,6],"nice":false,"zero":false},"axis":{"title":"(d) position(mm)","values":[0,0.5,1,1.5,2,2.5,3,3.5,4,4.5,5,5.5,6],"labelExpr":"datum.value % 1 == 0 ? format(datum.value, 'd') : ''"}},
      "y":{"field":"y","type":"quantitative","scale":{"domain":[0,1],"nice":false},"axis":{"title":"relative intensity","titleFontSize":20,"titlePadding":10,"values":[0,0.1,0.2,0.3,0.4,0.5,0.6,0.7,0.8,0.9,1],"labelExpr":"round(datum.value*10) % 2 == 0 ? (floor(datum.value + 0.001) + '. ' + (round(datum.value*10) % 10)) : ''"}},
      "color":{"field":"c","type":"nominal","scale":{"domain":["m=4","m=6","m=8"],"range":["#3d3d3d","#e23c3c","#1c6fd6"]},"legend":{"orient":"none","legendX":271,"legendY":4,"title":null}}
     }},
   {"data":{"name":"frame"},"mark":{"type":"point","opacity":0},
    "encoding":{
     "x":{"field":"x","type":"quantitative","scale":{"domain":[0,6],"nice":false,"zero":false},"axis":{"orient":"top","labels":false,"grid":false,"title":null,"values":[0,0.5,1,1.5,2,2.5,3,3.5,4,4.5,5,5.5,6]}},
     "y":{"field":"y","type":"quantitative","scale":{"domain":[0,1],"nice":false},"axis":{"orient":"right","grid":false,"title":null,"values":[0,0.1,0.2,0.3,0.4,0.5,0.6,0.7,0.8,0.9,1],"labelExpr":"round(datum.value*10) % 2 == 0 ? (floor(datum.value + 0.001) + '. ' + (round(datum.value*10) % 10)) : ''"}}
    }}
  ]}
]
}
